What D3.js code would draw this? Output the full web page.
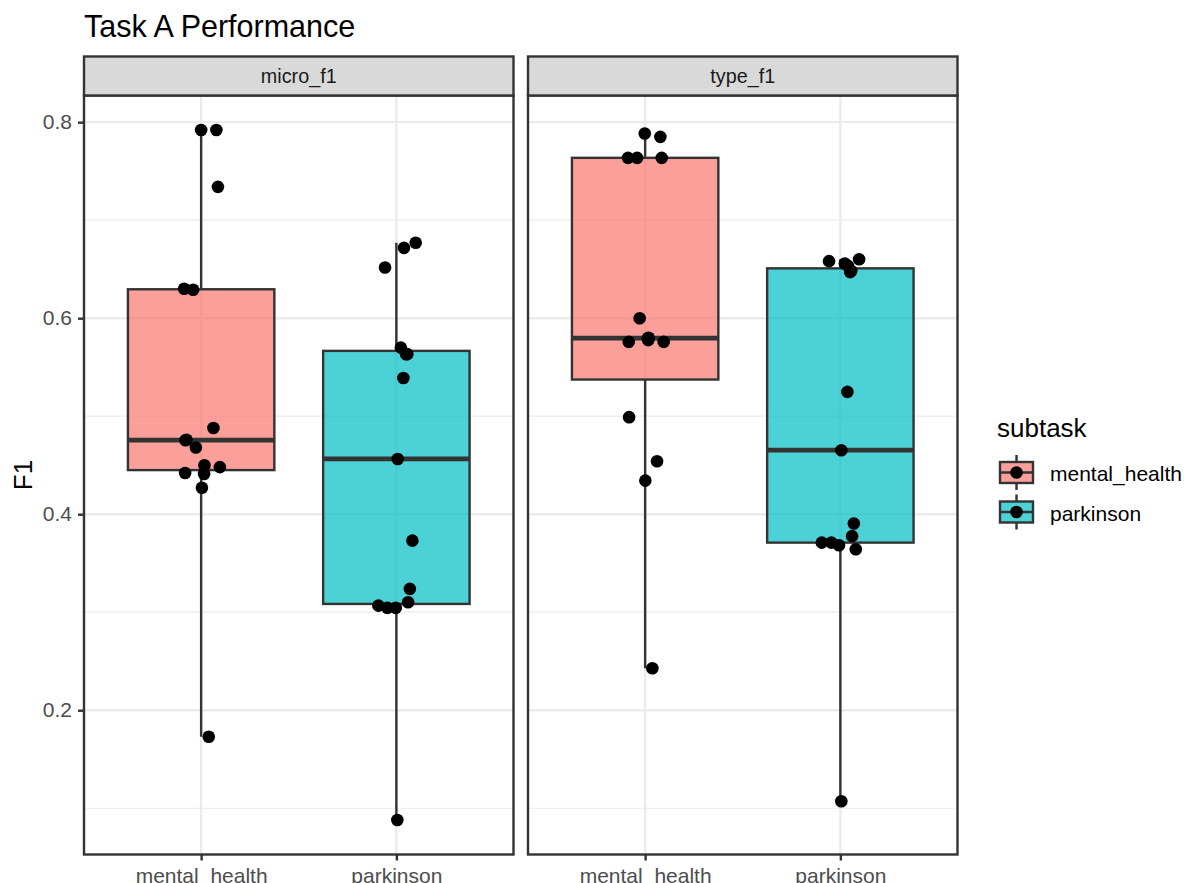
<!DOCTYPE html>
<html>
<head>
<meta charset="utf-8">
<script src="https://cdn.jsdelivr.net/npm/d3@7"></script>
<style>
  html, body { margin: 0; padding: 0; background: #fff; }
  svg { display: block; font-family: "Liberation Sans", Arial, Helvetica, sans-serif; }
</style>
</head>
<body>
<svg id="chart"></svg>
<script>
// Facets, categories, colours
const facets = ['micro_f1', 'type_f1'];
const subtasks = ['mental_health', 'parkinson'];
const subtaskColors = ['#F8766D', '#00BFC4'];

// F1 values, one array per facet x subtask
const microMental = [0.792, 0.792, 0.734, 0.630, 0.629, 0.488, 0.4755, 0.476, 0.468, 0.450, 0.448, 0.442, 0.441, 0.427, 0.173];
const microParkinson = [0.6769, 0.6717, 0.6517, 0.570, 0.5633, 0.5632, 0.539, 0.4564, 0.373, 0.3238, 0.3102, 0.3067, 0.3044, 0.3044, 0.088];
const typeMental = [0.7884, 0.785, 0.7636, 0.7636, 0.7636, 0.600, 0.5758, 0.5776, 0.5796, 0.5800, 0.5758, 0.499, 0.454, 0.4343, 0.2429];
const typeParkinson = [0.6602, 0.6582, 0.6558, 0.6534, 0.6483, 0.647, 0.5248, 0.4653, 0.3905, 0.3776, 0.3643, 0.371, 0.371, 0.3684, 0.1071];

// Horizontal jitter of each point, in category units
const microMentalJitter = [0.00, 0.078, 0.086, -0.087, -0.041, 0.063, -0.080, -0.075, -0.027, 0.017, 0.096, -0.082, 0.015, 0.004, 0.039];
const microParkinsonJitter = [0.099, 0.039, -0.058, 0.023, 0.056, 0.050, 0.036, 0.007, 0.082, 0.069, 0.060, -0.092, -0.046, -0.003, 0.005];
const typeMentalJitter = [-0.002, 0.078, -0.088, -0.041, 0.085, -0.028, -0.084, 0.016, 0.014, 0.018, 0.095, -0.082, 0.061, 0.001, 0.037];
const typeParkinsonJitter = [0.096, -0.058, 0.023, 0.039, 0.056, 0.050, 0.036, 0.005, 0.069, 0.060, 0.079, -0.095, -0.046, -0.007, 0.005];

const yTicks = [0.2, 0.4, 0.6, 0.8];
const yMinorTicks = [0.1, 0.3, 0.5, 0.7];

const series = [
  [{ values: microMental, jitter: microMentalJitter }, { values: microParkinson, jitter: microParkinsonJitter }],
  [{ values: typeMental, jitter: typeMentalJitter }, { values: typeParkinson, jitter: typeParkinsonJitter }]
];

const width = 1184, height = 883;
const svg = d3.select('#chart').attr('width', width).attr('height', height);

const panelTop = 95.5, panelBottom = 854.5;
const panels = [[84, 513.5], [528, 957.5]];
const stripTop = 56.5;
const lw = 2.4;
const dark = '#333333';
const tickFont = '21px';

// y scale with ggplot style 5% expansion
const allVals = series.flat().flatMap(s => s.values);
const lo = d3.min(allVals), hi = d3.max(allVals);
const pad = (hi - lo) * 0.05;
const y = d3.scaleLinear().domain([lo - pad, hi + pad]).range([panelBottom, panelTop]);

// Title
svg.append('text')
  .attr('x', 84).attr('y', 37)
  .attr('font-size', '30.5px')
  .attr('fill', '#000')
  .text('Task A Performance');

// y axis title
svg.append('text')
  .attr('transform', `translate(31.5, ${(panelTop + panelBottom) / 2}) rotate(-90)`)
  .attr('text-anchor', 'middle')
  .attr('font-size', '26px')
  .attr('fill', '#000')
  .text('F1');

function boxStats(vals) {
  const s = vals.slice().sort(d3.ascending);
  const q1 = d3.quantileSorted(s, 0.25), med = d3.quantileSorted(s, 0.5), q3 = d3.quantileSorted(s, 0.75);
  const iqr = q3 - q1;
  const lowW = d3.min(s.filter(v => v >= q1 - 1.5 * iqr));
  const highW = d3.max(s.filter(v => v <= q3 + 1.5 * iqr));
  return { q1, med, q3, lowW, highW };
}

facets.forEach((facet, fi) => {
  const [x0, x1] = panels[fi];
  const x = d3.scalePoint().domain(subtasks).range([x0, x1]).padding(0.6);
  const step = x.step();
  const g = svg.append('g');

  // Minor grid
  g.selectAll('.minor').data(yMinorTicks).join('line')
    .attr('x1', x0).attr('x2', x1)
    .attr('y1', d => y(d)).attr('y2', d => y(d))
    .attr('stroke', '#EBEBEB').attr('stroke-width', 1.2);

  // Major grid
  g.selectAll('.major').data(yTicks).join('line')
    .attr('x1', x0).attr('x2', x1)
    .attr('y1', d => y(d)).attr('y2', d => y(d))
    .attr('stroke', '#EBEBEB').attr('stroke-width', lw);
  g.selectAll('.vmajor').data(subtasks).join('line')
    .attr('x1', d => x(d)).attr('x2', d => x(d))
    .attr('y1', panelTop).attr('y2', panelBottom)
    .attr('stroke', '#EBEBEB').attr('stroke-width', lw);

  // Boxplots
  subtasks.forEach((sub, si) => {
    const st = boxStats(series[fi][si].values);
    const cx = x(sub);
    const bw = step * 0.75;
    // whiskers
    g.append('line')
      .attr('x1', cx).attr('x2', cx)
      .attr('y1', y(st.q3)).attr('y2', y(st.highW))
      .attr('stroke', dark).attr('stroke-width', lw);
    g.append('line')
      .attr('x1', cx).attr('x2', cx)
      .attr('y1', y(st.q1)).attr('y2', y(st.lowW))
      .attr('stroke', dark).attr('stroke-width', lw);
    // box
    g.append('rect')
      .attr('x', cx - bw / 2).attr('width', bw)
      .attr('y', y(st.q3)).attr('height', y(st.q1) - y(st.q3))
      .attr('fill', subtaskColors[si]).attr('fill-opacity', 0.7)
      .attr('stroke', dark).attr('stroke-width', lw);
    // median
    g.append('line')
      .attr('x1', cx - bw / 2).attr('x2', cx + bw / 2)
      .attr('y1', y(st.med)).attr('y2', y(st.med))
      .attr('stroke', dark).attr('stroke-width', lw * 2);
  });

  // Jittered points
  subtasks.forEach((sub, si) => {
    const s = series[fi][si];
    g.selectAll(null).data(s.values).join('circle')
      .attr('cx', (d, i) => x(sub) + s.jitter[i] * step)
      .attr('cy', d => y(d))
      .attr('r', 6.3)
      .attr('fill', '#000');
  });

  // Panel border
  g.append('rect')
    .attr('x', x0).attr('y', panelTop)
    .attr('width', x1 - x0).attr('height', panelBottom - panelTop)
    .attr('fill', 'none').attr('stroke', dark).attr('stroke-width', lw);

  // Strip
  g.append('rect')
    .attr('x', x0).attr('y', stripTop)
    .attr('width', x1 - x0).attr('height', panelTop - stripTop)
    .attr('fill', '#D9D9D9').attr('stroke', dark).attr('stroke-width', lw);
  g.append('text')
    .attr('x', (x0 + x1) / 2).attr('y', 83)
    .attr('text-anchor', 'middle')
    .attr('font-size', '19.8px')
    .attr('fill', '#1A1A1A')
    .text(facet);

  // x axis
  const xAxis = g.append('g')
    .attr('transform', `translate(0, ${panelBottom})`)
    .call(d3.axisBottom(x).tickSize(6).tickPadding(8));
  xAxis.select('.domain').remove();
  xAxis.selectAll('line').attr('stroke', dark).attr('stroke-width', lw);
  xAxis.selectAll('text').attr('font-size', tickFont).attr('fill', '#4D4D4D')
    .attr('font-family', null);

  // y axis on the first panel
  if (fi === 0) {
    const yAxis = g.append('g')
      .attr('transform', `translate(${x0}, 0)`)
      .call(d3.axisLeft(y).tickValues(yTicks).tickFormat(d3.format('.1f')).tickSize(6).tickPadding(6));
    yAxis.select('.domain').remove();
    yAxis.selectAll('line').attr('stroke', dark).attr('stroke-width', lw);
    yAxis.selectAll('text').attr('font-size', tickFont).attr('fill', '#4D4D4D')
      .attr('font-family', null);
  }
});

// Legend
const legend = svg.append('g');
legend.append('text')
  .attr('x', 997).attr('y', 437)
  .attr('font-size', '26px')
  .attr('fill', '#000')
  .text('subtask');

const keyCenters = d3.scalePoint().domain(subtasks).range([472.5, 512]);
subtasks.forEach((sub, si) => {
  const cy = keyCenters(sub);
  const kx0 = 1000, kx1 = 1033, kc = (kx0 + kx1) / 2;
  legend.append('line')
    .attr('x1', kc).attr('x2', kc)
    .attr('y1', cy - 17.5).attr('y2', cy + 17.5)
    .attr('stroke', dark).attr('stroke-width', lw);
  legend.append('rect')
    .attr('x', kx0).attr('y', cy - 10.5)
    .attr('width', kx1 - kx0).attr('height', 21)
    .attr('fill', '#fff');
  legend.append('rect')
    .attr('x', kx0).attr('y', cy - 10.5)
    .attr('width', kx1 - kx0).attr('height', 21)
    .attr('fill', subtaskColors[si]).attr('fill-opacity', 0.7)
    .attr('stroke', dark).attr('stroke-width', lw);
  legend.append('line')
    .attr('x1', kx0).attr('x2', kx1)
    .attr('y1', cy).attr('y2', cy)
    .attr('stroke', dark).attr('stroke-width', lw);
  legend.append('circle')
    .attr('cx', kc).attr('cy', cy).attr('r', 6.3)
    .attr('fill', '#000');
  legend.append('text')
    .attr('x', 1050).attr('y', cy + 8.5)
    .attr('font-size', tickFont)
    .attr('fill', '#000')
    .text(sub);
});
</script>
</body>
</html>
